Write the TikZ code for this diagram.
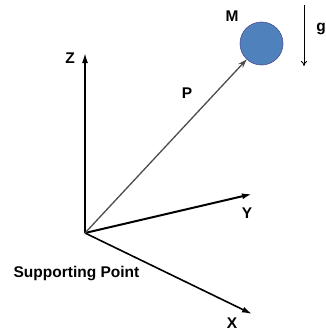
\documentclass[tikz,border=0pt]{standalone}
\usepackage{fontspec}
\setmainfont{Liberation Sans}
\usetikzlibrary{arrows,arrows.meta}

\begin{document}
\begin{tikzpicture}[x=1pt,y=-1pt,
lbl/.style={font=\fontsize{15.5}{17}\selectfont\bfseries,inner sep=0pt},
axis/.style={-{Latex[length=10pt,width=6pt]},line width=1.6pt},
vec/.style={-{Stealth[length=9pt,width=6pt]},line width=1.3pt,black!70},
grav/.style={-{To[length=5pt,width=6pt]},line width=0.8pt},
ball/.style={circle,draw=blue!40!black!70,line width=0.6pt,fill={rgb,255:red,79;green,129;blue,189},minimum size=43pt,inner sep=0pt} ]

\useasboundingbox (0,0) rectangle (326,332);

\coordinate (O) at (85,233);

\coordinate (Zt) at (85,53);

\coordinate (Yt) at (252,194);

\coordinate (Xt) at (252,314);

\coordinate (gtop) at (304,5);

\coordinate (gbot) at (304,66);

\node[ball] (mass) at (261.5,43.5) {};

\node[lbl] (Z) at (70,58) {Z};

\node[lbl] (Y) at (247,213) {Y};

\node[lbl] (X) at (232,323) {X};

\node[lbl] (P) at (187,93) {P};

\node[lbl] (M) at (232,16) {M};

\node[lbl] (g) at (321,29) {g};

\node[lbl] (sp) at (76.5,274) {Supporting Point};

\draw[axis] (O) -- (Zt);

\draw[axis,line width=2pt] (O) -- (Yt);

\draw[axis] (O) -- (Xt);

\draw[vec] (O) -- (mass);

\draw[grav] (gtop) -- (gbot);

\end{tikzpicture}
\end{document}
